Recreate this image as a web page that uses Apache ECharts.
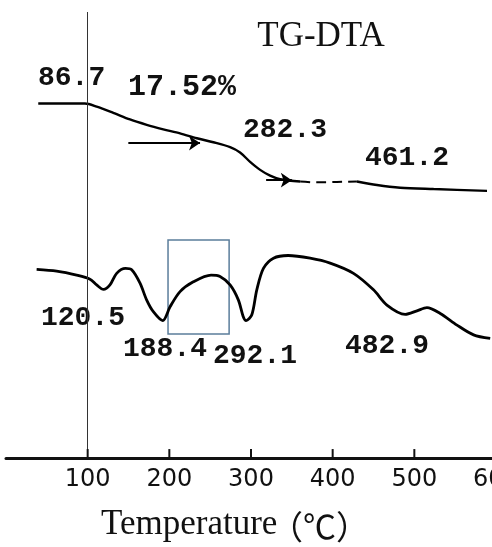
<!DOCTYPE html>
<html>
<head>
<meta charset="utf-8">
<script src="https://cdn.jsdelivr.net/npm/echarts@6/dist/echarts.min.js"></script>
<style>html,body{margin:0;padding:0;background:#fff;}#c{width:492px;height:547px;}</style>
</head>
<body>
<div id="c"></div>
<script>
// Temperature axis ticks
const tickValues = [100, 200, 300, 400, 500, 600];

// TG curve (arbitrary signal units), split into solid / dashed / solid parts
const tgTempA = [39.5, 96.7, 111, 131.4, 151.8, 172.3, 192.6, 213.1, 233.6, 253.9, 274.4, 286.6, 298.9, 311.2, 323.4, 335.7, 360.2];
const tgValA  = [79.5, 79.5, 78.8, 77.4, 75.9, 74.7, 73.7, 72.8, 71.7, 70.8, 69.7, 68.5, 66.4, 64.6, 63.3, 62.5, 62.0];
const tgTempB = [360.2, 380.6, 405, 429.7];
const tgValB  = [62.0, 61.8, 61.9, 62.0];
const tgTempC = [429.7, 454.2, 482.7, 523.6, 589];
const tgValC  = [62.0, 61.2, 60.6, 60.3, 59.9];

// DTA curve
const dtaTemp = [37.5, 62.0, 86.5, 102.8, 111.0, 119.4, 127.3, 135.5, 146.3, 153.9, 164.1, 172.3, 180.4, 191.9, 200.9, 213.1, 229.4, 251.1, 262.1, 274.4, 284.6, 290.3, 294.0, 301.0, 307.1, 315.2, 327.5, 345.5, 372.4, 396.9, 425.5, 450.0, 466.4, 488.8, 503.2, 515.4, 531.7, 552.2, 572.5, 592.9];
const dtaVal  = [42.3, 41.9, 41.0, 40.1, 38.8, 37.8, 38.8, 41.4, 42.5, 42.2, 39.2, 35.4, 32.8, 30.8, 33.9, 37.3, 39.5, 41.0, 40.7, 38.8, 35.4, 31.8, 30.8, 32.1, 37.7, 42.5, 44.8, 45.4, 44.8, 43.7, 41.4, 37.7, 34.3, 32.2, 33.0, 33.7, 32.4, 29.8, 27.6, 26.8];

// Onset arrows [x1, x2, y]
const arrow1 = [149.8, 237.6, 70.6];
const arrow2 = [318.5, 350, 62.3];

// Highlight box [xStart, xEnd, yTop, yBottom]
const boxRange = [198.4, 273.2, 48.9, 27.8];

// Annotations
const annoTexts = ['86.7', '17.52%', '282.3', '461.2', '120.5', '188.4', '292.1', '482.9'];

const zip = (a, b) => a.map((x, i) => [x, b[i]]);

const chart = echarts.init(document.getElementById('c'), null, {renderer: 'canvas'});
const numFont = '"Liberation Mono", monospace';
function txt(text, x, y, size, opts) {
  return {
    type: 'text', x: x, y: y, silent: true,
    style: {
      text: text, fill: '#111',
      font: (opts && opts.weight ? opts.weight : 'bold') + ' ' + size + 'px ' + ((opts && opts.family) || numFont),
      textAlign: (opts && opts.align) || 'left', align: (opts && opts.align) || 'left',
      textVerticalAlign: 'middle', verticalAlign: 'middle'
    }
  };
}

const lineStyle = {color: '#000', width: 2.4};
const graphics = [
  txt('TG-DTA', 321, 37, 35, {family: '"Liberation Serif", serif', weight: 'normal', align: 'center'}),
  txt(annoTexts[0], 38, 78, 28),
  txt(annoTexts[1], 128, 87, 30),
  txt(annoTexts[2], 243, 130, 28),
  txt(annoTexts[3], 365, 158, 28),
  txt(annoTexts[4], 41, 318, 28),
  txt(annoTexts[5], 123, 349, 28),
  txt(annoTexts[6], 213, 356, 28),
  txt(annoTexts[7], 345, 346, 28),
  txt('Temperature', 101, 525, 35, {family: '"Liberation Serif", serif', weight: 'normal'}),
  txt('（℃）', 270, 526, 33, {family: '"Noto Sans CJK SC", sans-serif', weight: 'normal'})
];

chart.setOption({
  animation: false,
  backgroundColor: '#fff',
  grid: {left: 6, right: -4, top: 12, bottom: 89, containLabel: false, outerBoundsMode: 'none'},
  xAxis: {
    type: 'value', min: 0, max: 600, interval: 100, position: 'bottom',
    axisLine: {show: true, onZero: false, lineStyle: {color: '#111', width: 3}},
    axisTick: {show: false},
    axisLabel: {show: true, margin: 10, color: '#111', fontSize: 24, fontFamily: '"DejaVu Sans"', hideOverlap: false,
      showMinLabel: false, showMaxLabel: true,
      formatter: function (v) { return tickValues.indexOf(v) >= 0 ? String(v) : ''; }},
    splitLine: {show: false}
  },
  yAxis: {type: 'value', min: 0, max: 100, show: false},
  series: [
    {
      type: 'line', data: zip(tgTempA, tgValA), smooth: 0.3, showSymbol: false, lineStyle: lineStyle,
      markLine: {
        silent: true, symbol: 'none', label: {show: false},
        lineStyle: {color: '#333', width: 1, type: 'solid'},
        data: [{xAxis: 100}]
      }
    },
    {type: 'line', data: zip(tgTempB, tgValB), smooth: 0.3, showSymbol: false,
      lineStyle: {color: '#000', width: 2, type: [10, 6]}},
    {type: 'line', data: zip(tgTempC, tgValC), smooth: 0.3, showSymbol: false, lineStyle: lineStyle},
    {
      type: 'line', data: zip(dtaTemp, dtaVal), smooth: 0.3, showSymbol: false,
      lineStyle: {color: '#000', width: 2.8},
      markArea: {
        silent: true,
        itemStyle: {color: 'rgba(0,0,0,0)', borderColor: '#5b7d9b', borderWidth: 1.5},
        data: [[{xAxis: boxRange[0], yAxis: boxRange[2]}, {xAxis: boxRange[1], yAxis: boxRange[3]}]]
      }
    },
    {
      type: 'line', data: [],
      markLine: {
        silent: true, symbol: ['none', 'arrow'], symbolSize: 11, label: {show: false},
        lineStyle: {color: '#000', width: 2, type: 'solid'},
        itemStyle: {color: '#000'},
        data: [
          [{coord: [arrow1[0], arrow1[2]]}, {coord: [arrow1[1], arrow1[2]]}],
          [{coord: [arrow2[0], arrow2[2]]}, {coord: [arrow2[1], arrow2[2]]}]
        ]
      }
    }
  ],
  graphic: graphics
});

// Axis tick marks, positioned through the chart's own x / y scales
const tickGraphics = tickValues.map(v => {
  const base = chart.convertToPixel({gridIndex: 0}, [v, 0]);
  const top = chart.convertToPixel({gridIndex: 0}, [v, 2]);
  return {
    type: 'line', z: 100, silent: true,
    shape: {x1: base[0], y1: base[1], x2: top[0], y2: top[1]},
    style: {stroke: '#111', lineWidth: 2}
  };
});
chart.setOption({graphic: graphics.concat(tickGraphics)});
</script>
</body>
</html>
